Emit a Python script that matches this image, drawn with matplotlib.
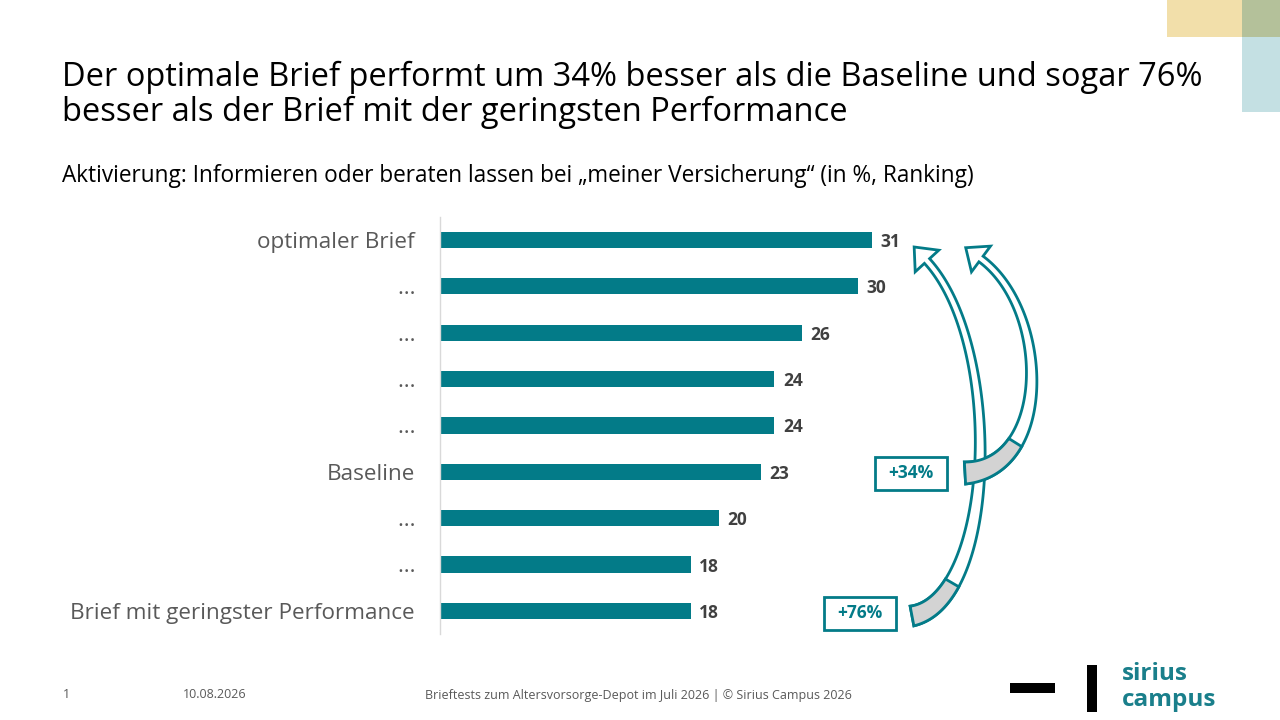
import numpy as np
import matplotlib.pyplot as plt
from matplotlib.patches import Rectangle, Polygon

plt.rcParams['font.family'] = ['Open Sans', 'DejaVu Sans']

# Daten (von oben nach unten)
kategorien = ['optimaler Brief', '…', '…', '…', '…', 'Baseline', '…', '…',
              'Brief mit geringster Performance']
werte = [31, 30, 26, 24, 24, 23, 20, 18, 18]
zuwachs = ['+34%', '+76%']

titel = ('Der optimale Brief performt um 34% besser als die Baseline und sogar 76%\n'
         'besser als der Brief mit der geringsten Performance')
untertitel = 'Aktivierung: Informieren oder beraten lassen bei \u201emeiner Versicherung\u201c (in %, Ranking)'
fusszeile = 'Brieftests zum Altersvorsorge-Depot im Juli 2026 | \u00a9 Sirius Campus 2026'

teal = '#037B88'
grau_text = '#595959'


def bogenpfeil(ax, p, w0, w1, kopf_b, kopf_l, grau_bis):
    p = np.array(p, float)
    t = np.linspace(0, 1, 120)[:, None]
    pts = ((1 - t) ** 3 * p[0] + 3 * (1 - t) ** 2 * t * p[1]
           + 3 * (1 - t) * t ** 2 * p[2] + t ** 3 * p[3])
    d = (3 * (1 - t) ** 2 * (p[1] - p[0]) + 6 * (1 - t) * t * (p[2] - p[1])
         + 3 * t ** 2 * (p[3] - p[2]))
    d /= np.linalg.norm(d, axis=1)[:, None]
    n = np.column_stack([-d[:, 1], d[:, 0]])
    w = (w1 + (w0 - w1) * (1 - t) ** 2) / 2
    links = pts + n * w
    rechts = pts - n * w
    ende, tang, nn = pts[-1], d[-1], n[-1]
    kopf = [ende + nn * kopf_b / 2, ende + tang * kopf_l, ende - nn * kopf_b / 2]
    umriss = np.vstack([links, kopf, rechts[::-1]])
    ax.add_patch(Polygon(umriss, closed=True, fc='white', ec=teal, lw=2,
                         joinstyle='miter', zorder=3))
    k = int(grau_bis * len(t))
    grau = np.vstack([links[:k], rechts[:k][::-1]])
    ax.add_patch(Polygon(grau, closed=True, fc='#D3D3D3', ec=teal, lw=2,
                         joinstyle='miter', zorder=4))


fig = plt.figure(figsize=(12.8, 7.2), dpi=100)

# Balkendiagramm
ax = fig.add_axes([440 / 1280, 1 - 634 / 720, (872 - 440) / 1280, (634 - 216.8) / 720])
y = np.arange(len(werte))
ax.barh(y, werte, height=0.35, color=teal)
ax.set_xlim(0, 31)
ax.set_ylim(len(werte) - 0.5, -0.5)
ax.set_yticks(y)
ax.set_yticklabels(kategorien, fontsize=16.2, color=grau_text)
ax.tick_params(axis='y', length=0, pad=18)
ax.set_xticks([])
for s in ['top', 'right', 'bottom']:
    ax.spines[s].set_visible(False)
ax.spines['left'].set_color('#D9D9D9')
ax.spines['left'].set_linewidth(1)
for yi, v in zip(y, werte):
    ax.annotate(str(v), (v, yi), xytext=(6, -1.5), textcoords='offset points',
                va='center', ha='left', fontsize=12.5, fontweight='bold',
                color='#404040', annotation_clip=False)

# Overlay in Pixelkoordinaten
ov = fig.add_axes([0, 0, 1, 1], facecolor='none')
ov.set_xlim(0, 1280)
ov.set_ylim(720, 0)
ov.axis('off')

# Farbblöcke oben rechts
ov.add_patch(Rectangle((1167, 0), 75, 37, fc='#F2DFAA', ec='none'))
ov.add_patch(Rectangle((1242, 0), 38, 37, fc='#B4C19A', ec='none'))
ov.add_patch(Rectangle((1242, 37), 38, 75, fc='#C4E0E3', ec='none'))

ov.text(62, 95, titel, fontsize=23.5, color='black', va='center', ha='left',
        linespacing=1.08)
ov.text(62, 176, untertitel, fontsize=16.3, color='black', va='center', ha='left')

# Bogenpfeile
bogenpfeil(ov, [(965, 473), (1052, 468), (1050, 310), (981, 259)],
           22, 7, 32, 19, 0.27)
bogenpfeil(ov, [(912, 616), (996, 600), (1004, 345), (927, 261)],
           20, 7, 32, 19, 0.2)

# Kästen mit Zuwachs
for (x0, y0), txt in zip([(875, 457), (824, 597)], zuwachs):
    ov.add_patch(Rectangle((x0, y0), 72, 33, fc='white', ec=teal, lw=2, zorder=5))
    ov.text(x0 + 36, y0 + 16, txt, fontsize=12.5, fontweight='bold', color=teal,
            ha='center', va='center', zorder=6)

# Fußzeile
fuss = dict(fontsize=9, color=grau_text, va='center')
ov.text(63, 695, '1', ha='left', **fuss)
ov.text(183, 695, '10.08.2026', ha='left', **fuss)
ov.text(425, 695, fusszeile, ha='left', **fuss)

# Logo
ov.add_patch(Rectangle((1010, 683), 45, 10, fc='black', ec='none'))
ov.add_patch(Rectangle((1087, 665), 10, 47, fc='black', ec='none'))
ov.text(1122, 674, 'sirius', fontsize=17.5, fontweight='bold', color='#1A7F8B',
        ha='left', va='center')
ov.text(1122, 700, 'campus', fontsize=17.5, fontweight='bold', color='#1A7F8B',
        ha='left', va='center')

fig.savefig('out.png', dpi=100, facecolor='white')
